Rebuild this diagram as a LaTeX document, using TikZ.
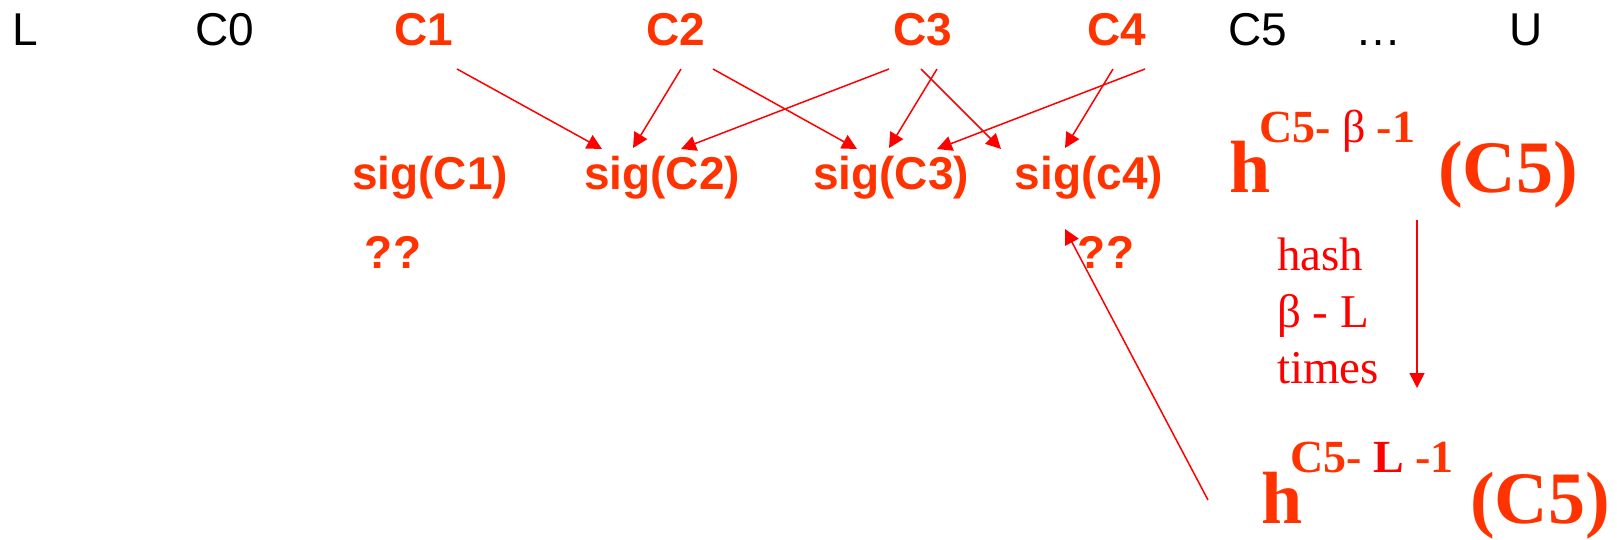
\documentclass[tikz,border=0pt]{standalone}
\usepackage{fontspec}
\setmainfont{Liberation Serif}
\newfontfamily\arialfont{Liberation Sans}
\usetikzlibrary{arrows.meta}
\definecolor{sigred}{HTML}{FF3300}
\definecolor{linkred}{HTML}{FF0000}
\begin{document}
\begin{tikzpicture}[x=0.5pt,y=-0.5pt,
  every node/.style={inner sep=0pt, outer sep=0pt},
  plainlab/.style={anchor=base, font=\arialfont\fontsize{23}{27}\selectfont, text=black},
  keylab/.style={anchor=base, font=\arialfont\bfseries\fontsize{23}{27}\selectfont, text=sigred},
  bigh/.style={anchor=base west, font=\bfseries\fontsize{37}{40}\selectfont, text=sigred},
  suplab/.style={anchor=base west, font=\bfseries\fontsize{23}{26}\selectfont, text=sigred},
  hashlab/.style={anchor=base west, font=\fontsize{23.5}{28}\selectfont, text=linkred},
  link/.style={draw=linkred, line width=0.75pt, -{Triangle[length=7.5pt,width=7.5pt]}}
]
\useasboundingbox (0,0) rectangle (1617,540);

% top row of labels
\node[plainlab] (L)  at (25,46)   {L};
\node[plainlab] (c0) at (225,46)  {C0};
\node[keylab]   (c1) at (424,46)  {C1};
\node[keylab]   (c2) at (676,46)  {C2};
\node[keylab]   (c3) at (923,46)  {C3};
\node[keylab]   (c4) at (1117,46) {C4};
\node[plainlab] (c5) at (1258,46) {C5};
\node[plainlab] (dots) at (1378,46) {\ldots};
\node[plainlab] (U)  at (1526,46) {U};

% signatures
\node[keylab] (s1) at (430,190)  {sig(C1)};
\node[keylab] (s2) at (662,190)  {sig(C2)};
\node[keylab] (s3) at (891,190)  {sig(C3)};
\node[keylab] (s4) at (1089,190) {sig(c4)};

\node[keylab] (q1) at (393,268)  {??};
\node[keylab] (q2) at (1106,268) {??};

% chain values
\node[bigh]   (ha)   at (1229,192) {h};
\node[suplab] (hasup) at (1259,142) {C5-\ \textcolor{linkred}{\mdseries β}\ -1};
\node[bigh]   (hac5) at (1438,192) {(C5)};

\node[bigh]   (hb)   at (1261,523) {h};
\node[suplab] (hbsup) at (1290,472) {C5-\ \textcolor{linkred}{L}\ -1};
\node[bigh]   (hbc5) at (1470,523) {(C5)};

\node[hashlab] (hash1) at (1277,270) {hash};
\node[hashlab] (hash2) at (1277,327) {β - L};
\node[hashlab] (hash3) at (1277,383) {times};

% connector end points
\coordinate (c1a) at (457,69);
\coordinate (c2a) at (681,69);
\coordinate (c2b) at (713,69);
\coordinate (c3a) at (889,69);
\coordinate (c3b) at (921,69);
\coordinate (c3c) at (937,69);
\coordinate (c4a) at (1113,69);
\coordinate (c4b) at (1145,69);
\coordinate (s2a) at (602,149);
\coordinate (s2b) at (633,148);
\coordinate (s2c) at (681,149);
\coordinate (s3a) at (857,149);
\coordinate (s3b) at (889,148);
\coordinate (s3c) at (937,149);
\coordinate (s4a) at (1001,149);
\coordinate (s4b) at (1065,148);
\coordinate (q2a) at (1065,229);
\coordinate (hbfoot) at (1208,500);
\coordinate (hatop) at (1417,220);
\coordinate (hbtop) at (1417,388);

\draw[link] (c1a) -- (s2a);
\draw[link] (c2a) -- (s2b);
\draw[link] (c2b) -- (s3a);
\draw[link] (c3a) -- (s2c);
\draw[link] (c3c) -- (s3b);
\draw[link] (c3b) -- (s4a);
\draw[link] (c4b) -- (s3c);
\draw[link] (c4a) -- (s4b);
\draw[link] (hbfoot) -- (q2a);
\draw[link] (hatop) -- (hbtop);
\end{tikzpicture}
\end{document}
